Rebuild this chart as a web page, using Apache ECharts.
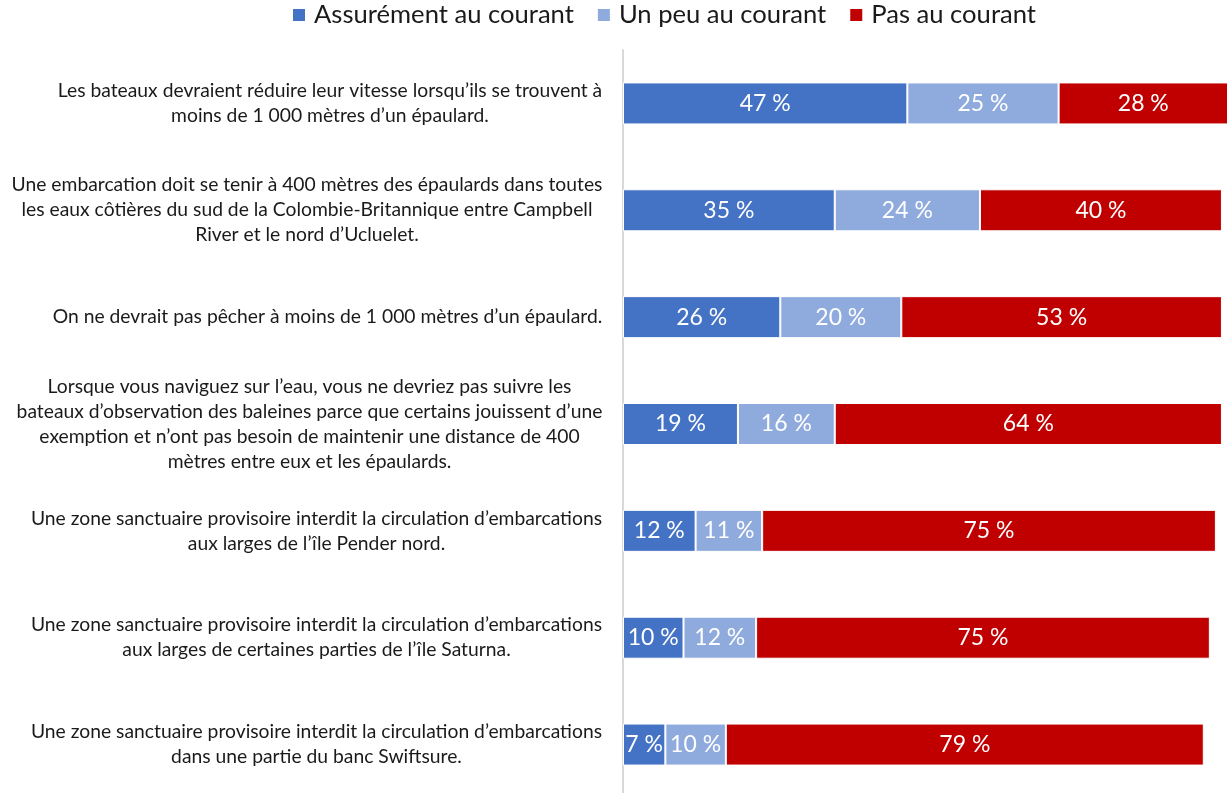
<!DOCTYPE html>
<html>
<head>
<meta charset="utf-8">
<script src="https://cdn.jsdelivr.net/npm/echarts@6/dist/echarts.min.js"></script>
<style>
html,body{margin:0;padding:0;background:#fff;}
#chart{width:1227px;height:793px;}
</style>
</head>
<body>
<div id="chart"></div>
<script>
const categories = [
  "Les bateaux devraient réduire leur vitesse lorsqu’ils se trouvent à\nmoins de 1 000 mètres d’un épaulard.",
  "Une embarcation doit se tenir à 400 mètres des épaulards dans toutes\nles eaux côtières du sud de la Colombie-Britannique entre Campbell\nRiver et le nord d’Ucluelet.",
  "On ne devrait pas pêcher à moins de 1 000 mètres d’un épaulard.",
  "Lorsque vous naviguez sur l’eau, vous ne devriez pas suivre les\nbateaux d’observation des baleines parce que certains jouissent d’une\nexemption et n’ont pas besoin de maintenir une distance de 400\nmètres entre eux et les épaulards.",
  "Une zone sanctuaire provisoire interdit la circulation d’embarcations\naux larges de l’île Pender nord.",
  "Une zone sanctuaire provisoire interdit la circulation d’embarcations\naux larges de certaines parties de l’île Saturna.",
  "Une zone sanctuaire provisoire interdit la circulation d’embarcations\ndans une partie du banc Swiftsure."
];
const seriesNames = ["Assurément au courant", "Un peu au courant", "Pas au courant"];
const assurement = [47, 35, 26, 19, 12, 10, 7];
const unPeu = [25, 24, 20, 16, 11, 12, 10];
const pasAu = [28, 40, 53, 64, 75, 75, 79];

const FONT = 'Lato';
const LABEL_SIZE = 19.3;
const LABEL_COLOR = '#1a1a1a';
const colors = ['#4472C4', '#8FAADC', '#C00000'];

const ctx = document.createElement('canvas').getContext('2d');
ctx.font = LABEL_SIZE + 'px ' + FONT;
const rich = {};
categories.forEach((c, i) => {
  const w = Math.max(...c.split('\n').map(l => ctx.measureText(l).width));
  rich['r' + i] = {
    width: Math.ceil(w) + 1, align: 'center',
    fontSize: LABEL_SIZE, fontFamily: FONT, color: LABEL_COLOR, lineHeight: 25
  };
});

const chart = echarts.init(document.getElementById('chart'), null, {renderer: 'canvas'});
const mk = (name, data, color) => ({
  name, type: 'bar', stack: 'total', data, barWidth: 42,
  itemStyle: {color, borderColor: '#ffffff', borderWidth: 1},
  label: {
    show: true, position: 'inside', formatter: '{c} %',
    color: '#ffffff', fontFamily: FONT, fontSize: 23
  },
  emphasis: {disabled: true}
});
chart.setOption({
  animation: false,
  legend: {
    left: 286, top: -3, itemWidth: 14, itemHeight: 14, itemGap: 22,
    icon: 'rect',
    textStyle: {fontFamily: FONT, fontSize: 25.6, color: '#1a1a1a', padding: [0, 0, 0, 3]},
    data: seriesNames
  },
  grid: {left: 623, top: 50, width: 605, height: 748, containLabel: false, outerBoundsMode: 'none'},
  xAxis: {type: 'value', min: 0, max: 100, show: false},
  yAxis: {
    type: 'category', inverse: true, data: categories,
    axisLine: {show: true, lineStyle: {color: '#d9d9d9', width: 2}},
    axisTick: {show: false},
    axisLabel: {
      margin: 20, align: 'right',
      formatter: (v, idx) => {
        const i = categories.indexOf(v);
        return v.split('\n').map(l => '{r' + i + '|' + l + '}').join('\n');
      },
      rich
    }
  },
  series: [
    mk(seriesNames[0], assurement, colors[0]),
    mk(seriesNames[1], unPeu, colors[1]),
    mk(seriesNames[2], pasAu, colors[2])
  ]
});
</script>
</body>
</html>
